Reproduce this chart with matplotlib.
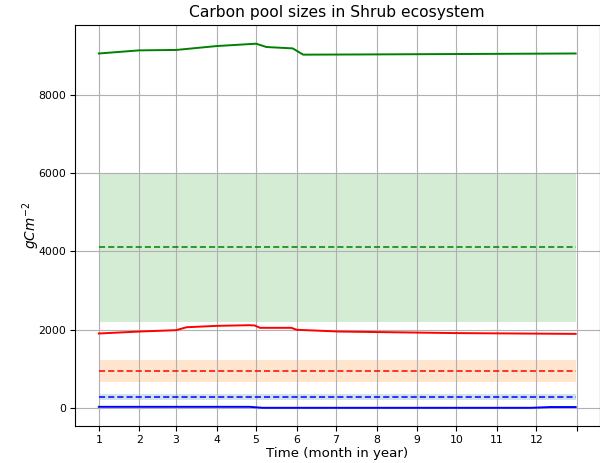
import matplotlib
matplotlib.use("Agg")
import matplotlib.pyplot as plt
import numpy as np

# month start (day of year) used as x ticks
month_days = [0, 31, 59, 90, 120, 151, 181, 212, 243, 273, 304, 334, 365]
month_labels = [str(m) for m in range(1, 13)] + [""]

# simulated pool sizes, x in day of year
veg_days = [0, 31, 59, 90, 120, 128, 148, 156, 200, 300, 364]
veg_vals = [9060, 9140, 9150, 9250, 9310, 9225, 9190, 9030, 9035, 9050, 9060]

soil_days = [0, 31, 59, 67, 90, 115, 119, 123, 147, 151, 183, 273, 364]
soil_vals = [1900, 1950, 1985, 2060, 2095, 2112, 2105, 2045, 2045, 1995, 1950, 1910, 1890]

litter_days = [0, 115, 125, 330, 345, 364]
litter_vals = [25, 25, 0, 0, 20, 20]

# observed means and ranges
veg_obs, veg_lo, veg_hi = 4100, 2200, 6000
soil_obs, soil_lo, soil_hi = 930, 650, 1220
litter_obs, litter_lo, litter_hi = 280, 205, 350


def main():
    fig = plt.figure(figsize=(6, 4.63), dpi=100)
    ax = fig.add_axes([75.0 / 600, 37.0 / 463, 524.5 / 600, 400.5 / 463])

    span = [0, 364]
    ax.fill_between(span, veg_lo, veg_hi, color="tab:green", alpha=0.2, lw=0)
    ax.fill_between(span, soil_lo, soil_hi, color="tab:orange", alpha=0.2, lw=0)
    ax.fill_between(span, litter_lo, litter_hi, color="tab:blue", alpha=0.2, lw=0)

    ax.plot(veg_days, veg_vals, "g-", lw=1.4)
    ax.plot(soil_days, soil_vals, "r-", lw=1.4)
    ax.plot(litter_days, litter_vals, "b-", lw=1.4)

    dash = (0, (4, 2))
    ax.plot(span, [veg_obs, veg_obs], color="g", ls=dash, lw=1.1)
    ax.plot(span, [soil_obs, soil_obs], color="r", ls=dash, lw=1.1)
    ax.plot(span, [litter_obs, litter_obs], color="b", ls=dash, lw=1.1)

    ax.set_xticks(month_days)
    ax.set_xticklabels(month_labels)
    ax.set_yticks([0, 2000, 4000, 6000, 8000])
    ax.tick_params(labelsize=7.8, pad=3)
    ax.grid(True)

    ax.set_title("Carbon pool sizes in Shrub ecosystem", fontsize=11.2)
    ax.set_xlabel("Time (month in year)", fontsize=9.6, labelpad=1.5)
    ax.set_ylabel(r"$gCm^{-2}$", fontsize=9.8)
    ax.yaxis.set_label_coords(-0.062, 0.5)

    fig.savefig("out.png", dpi=100)
    plt.close()


if __name__ == "__main__":
    main()
